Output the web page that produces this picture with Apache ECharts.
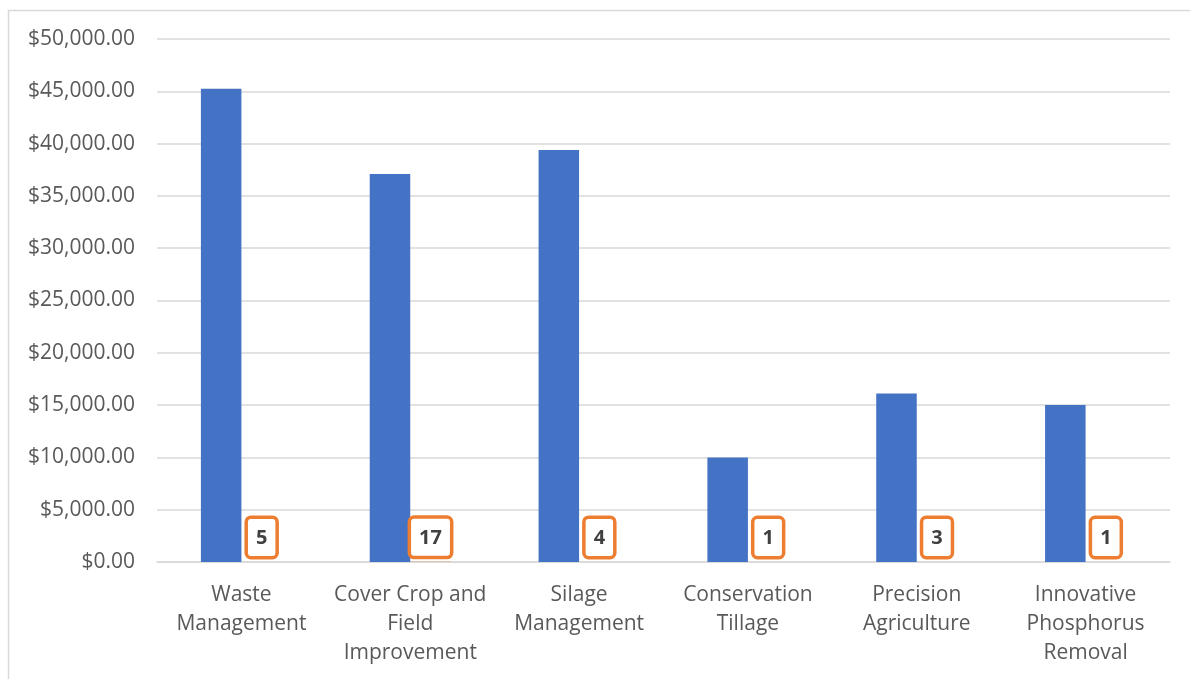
<!DOCTYPE html>
<html>
<head>
<meta charset="utf-8">
<script src="https://cdn.jsdelivr.net/npm/echarts@6/dist/echarts.min.js"></script>
<style>
  html, body { margin: 0; padding: 0; background: #fff; }
  #chart { width: 1190px; height: 679px; }
</style>
</head>
<body>
<div id="chart"></div>
<script>
// Program categories
const categories = [
  'Waste\nManagement',
  'Cover Crop and\nField\nImprovement',
  'Silage\nManagement',
  'Conservation\nTillage',
  'Precision\nAgriculture',
  'Innovative\nPhosphorus\nRemoval'
];
// Funding per program (dollars)
const funding = [45250, 37100, 39400, 10000, 16100, 15000];
// Number of projects per program
const projects = [5, 17, 4, 1, 3, 1];
// Value axis ticks
const yMin = 0, yMax = 50000, yStep = 5000;

const textColor = '#595959';
const gridColor = '#d9d9d9';
const font = '"Open Sans", "Noto Sans", sans-serif';

const chart = echarts.init(document.getElementById('chart'), null, { renderer: 'canvas' });

chart.setOption({
  animation: false,
  backgroundColor: '#fff',
  graphic: [{
    type: 'rect',
    shape: { x: 8.5, y: 10.5, width: 1300, height: 800 },
    style: { fill: 'none', stroke: gridColor, lineWidth: 1.5 },
    silent: true
  }],
  grid: { left: 157, right: 20, top: 39, bottom: 117 },
  xAxis: {
    type: 'category',
    data: categories,
    axisLine: { show: true, lineStyle: { color: gridColor, width: 1.5 } },
    axisTick: { show: false },
    axisLabel: {
      interval: 0,
      color: textColor,
      fontFamily: font,
      fontSize: 21,
      lineHeight: 29,
      margin: 19
    }
  },
  yAxis: {
    type: 'value',
    min: yMin,
    max: yMax,
    interval: yStep,
    axisLine: { show: false },
    axisTick: { show: false },
    splitLine: { lineStyle: { color: gridColor, width: 1.5 } },
    axisLabel: {
      color: textColor,
      fontFamily: font,
      fontSize: 21,
      margin: 22,
      formatter: v => '$' + v.toLocaleString('en-US', { minimumFractionDigits: 2, maximumFractionDigits: 2 })
    }
  },
  series: [
    {
      name: 'Funding',
      type: 'bar',
      data: funding,
      barWidth: '24%',
      barGap: '0%',
      itemStyle: { color: '#4472C4' }
    },
    {
      name: 'Projects',
      type: 'bar',
      data: projects,
      barWidth: '24%',
      itemStyle: { color: '#ED7D31' },
      label: {
        show: true,
        position: 'top',
        distance: 6,
        formatter: '{c}',
        color: '#404040',
        fontFamily: font,
        fontWeight: 'bold',
        fontSize: 20,
        lineHeight: 22,
        backgroundColor: '#fff',
        borderColor: '#ED7D31',
        borderWidth: 3.5,
        borderRadius: 3,
        padding: [8, 8, 7, 8]
      }
    }
  ]
});
</script>
</body>
</html>
